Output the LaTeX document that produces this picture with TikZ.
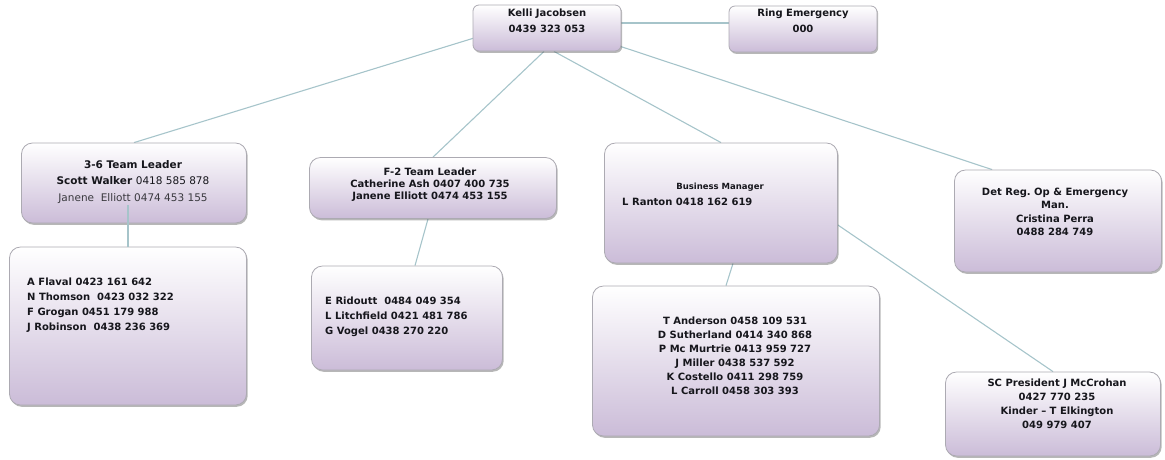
\documentclass[tikz,border=0pt]{standalone}
\usepackage{fontspec}
\setmainfont{DejaVu Sans}
\usepackage{tikz}
\usetikzlibrary{positioning, calc, backgrounds, shadows}
\frenchspacing

\definecolor{boxfoot}{RGB}{203,188,216}
\definecolor{boxedge}{RGB}{172,170,178}
\definecolor{linkline}{RGB}{166,196,202}
\definecolor{inktext}{RGB}{22,22,28}

\tikzset{
  orgbox/.style={draw=boxedge, line width=0.8pt, rounded corners=11pt,
    top color=white, bottom color=boxfoot, inner sep=0pt,
    drop shadow={shadow xshift=1.2pt, shadow yshift=-1.8pt, opacity=0.4, fill=black!70}},
  smallbox/.style={orgbox, rounded corners=6pt},
  orgtext/.style={text=inktext, font=\fontsize{10}{12}\selectfont\bfseries, align=center, inner sep=0pt},
  listtext/.style={orgtext, align=left, anchor=west},
  link/.style={draw=linkline, line width=1.1pt},
}

\begin{document}
\begin{tikzpicture}[x=1pt, y=-1pt]
  \useasboundingbox (0,0) rectangle (1165,459);

  % top row
  \node[smallbox, minimum width=148pt, minimum height=46pt] (kelli) at (547,28) {};
  \node[orgtext, font=\fontsize{10}{16}\selectfont\bfseries] (kelli-t) at (547,21) {Kelli Jacobsen\\0439 323 053};
  \node[smallbox, minimum width=148pt, minimum height=46pt] (ring) at (803,29) {};
  \node[orgtext, font=\fontsize{10}{16}\selectfont\bfseries] (ring-t) at (803,21) {Ring Emergency\\000};

  % team leaders
  \node[orgbox, minimum width=225pt, minimum height=80pt] (t36) at (134,183) {};
  \node[orgtext, font=\fontsize{10.5}{16.5}\selectfont\bfseries] (t36-t) at (133,182)
    {3-6 Team Leader\\Scott Walker {\mdseries 0418\ 585\ 878}\\{\mdseries\color{inktext!85}Janene\ \ Elliott 0474\ 453\ 155}};
  \node[orgbox, minimum width=247pt, minimum height=61pt] (f2) at (433,188) {};
  \node[orgtext] (f2-t) at (430,185) {F-2 Team Leader\\Catherine Ash 0407 400 735\\Janene Elliott 0474 453 155};
  \node[orgbox, minimum width=233pt, minimum height=120pt] (bm) at (721,203) {};
  \node[orgtext, font=\fontsize{8.5}{10}\selectfont\bfseries] (bm-t) at (720,187) {Business Manager};
  \node[listtext] (bm-name) at (622,202) {L Ranton 0418 162 619};
  \node[orgbox, minimum width=207pt, minimum height=102pt] (det) at (1058,221) {};
  \node[orgtext, font=\fontsize{10}{13.3}\selectfont\bfseries] (det-t) at (1055,212)
    {Det Reg. Op \& Emergency\\Man.\\Cristina Perra\\0488 284 749};

  % staff lists
  \node[orgbox, minimum width=237pt, minimum height=158pt] (alist) at (128,326) {};
  \node[listtext, font=\fontsize{10}{15}\selectfont\bfseries] (alist-t) at (27,305)
    {A Flaval 0423 161 642\\N Thomson\ \ 0423 032 322\\F Grogan 0451 179 988\\J Robinson\ \ 0438 236 369};
  \node[orgbox, minimum width=191pt, minimum height=104pt] (elist) at (407,318) {};
  \node[listtext, font=\fontsize{10}{15}\selectfont\bfseries] (elist-t) at (325,317)
    {E Ridoutt\ \ 0484 049 354\\L Litchfield 0421 481 786\\G Vogel 0438 270 220};
  \node[orgbox, minimum width=287pt, minimum height=150pt] (tlist) at (736,361) {};
  \node[orgtext, font=\fontsize{10}{14}\selectfont\bfseries] (tlist-t) at (735,356)
    {T Anderson 0458 109 531\\D Sutherland 0414 340 868\\P Mc Murtrie 0413 959 727\\J Miller 0438 537 592\\K Costello 0411 298 759\\L Carroll 0458 303 393};
  \node[orgbox, minimum width=215pt, minimum height=84pt] (sc) at (1053,414) {};
  \node[orgtext, font=\fontsize{10}{14}\selectfont\bfseries] (sc-t) at (1057,404)
    {SC President J McCrohan\\0427 770 235\\Kinder -- T Elkington\\049 979 407};

  % connectors
  \begin{scope}[on background layer]
    \draw[link] ($(kelli.east)+(0,-5)$) -- ($(ring.west)+(0,-6)$);
    \draw[link] ($(kelli.west)+(8,8)$) -- (t36.north);
    \draw[link] ($(kelli.south)+(-3,0)$) -- (f2.north);
    \draw[link] ($(kelli.south)+(7,0)$) -- (bm.north);
    \draw[link] ($(kelli.south east)+(-4,-6)$) -- ($(det.north west)+(38,0)$);
    \draw[link] ($(f2.south)+(-5,0)$) -- ($(elist.north)+(8,0)$);
    \draw[link] ($(bm.south)+(12,0)$) -- ($(tlist.north)+(-10,0)$);
    \draw[link] ($(bm.east)+(0,22)$) -- (sc.north);
  \end{scope}
  \draw[link] (alist.north) -- ($(alist.north |- t36.south)+(0,-18)$);
\end{tikzpicture}
\end{document}
